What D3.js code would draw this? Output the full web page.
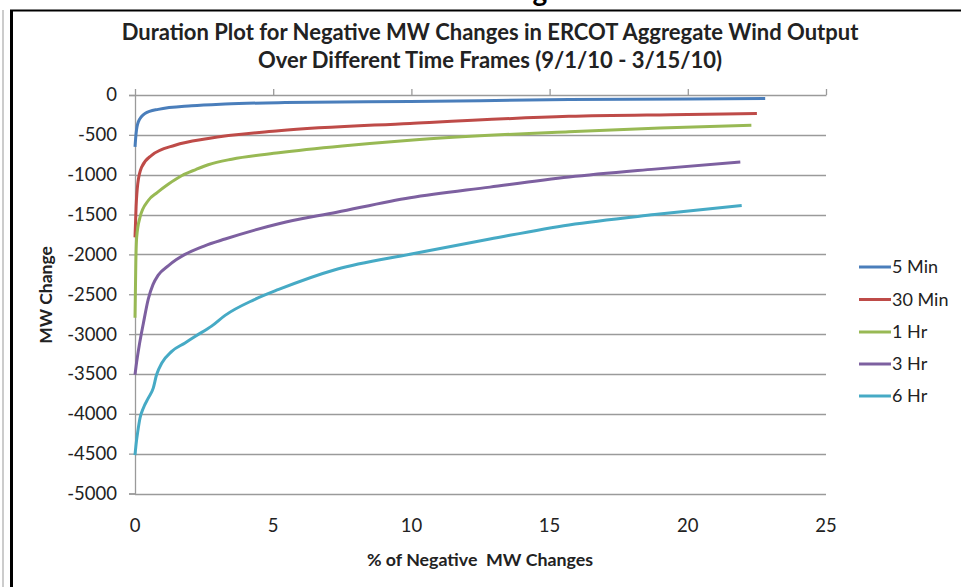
<!DOCTYPE html>
<html>
<head>
<meta charset="utf-8">
<script src="https://cdn.jsdelivr.net/npm/d3@7"></script>
<style>
  html, body { margin: 0; padding: 0; background: #fff; }
  svg { display: block; }
  text { font-family: Lato, "Open Sans", sans-serif; }
</style>
</head>
<body>
<svg id="chart" width="961" height="587"></svg>
<script>
// ---------- data ----------
const seriesNames = ["5 Min", "30 Min", "1 Hr", "3 Hr", "6 Hr"];

const x5min  = [0, 0.04, 0.12, 0.36, 0.84, 2.05, 3.26, 5.43, 9.95, 15.7, 20.0, 22.8];
const y5min  = [-652, -480, -337, -231, -180, -135, -113, -95, -82, -58, -50, -45];

const x30min = [0, 0.04, 0.1, 0.24, 0.6, 1.45, 2.65, 5.2, 9.95, 15.7, 20.0, 22.5];
const y30min = [-1787, -1400, -1114, -904, -757, -630, -546, -450, -357, -268, -245, -231];

const x1hr   = [0, 0.03, 0.06, 0.18, 0.48, 0.8, 1.2, 1.7, 2.2, 2.65, 3.5, 5.2, 7.5, 9.95, 15.7, 19.0, 22.3];
const y1hr   = [-2795, -2100, -1787, -1535, -1324, -1225, -1120, -1010, -935, -875, -805, -725, -640, -567, -460, -415, -378];

const x3hr   = [0, 0.04, 0.15, 0.3, 0.48, 0.65, 0.84, 1.2, 1.5, 1.81, 2.5, 3.26, 5.2, 7.3, 9.95, 12.84, 15.7, 18.8, 21.9];
const y3hr   = [-3510, -3400, -3150, -2870, -2560, -2380, -2260, -2144, -2065, -2000, -1895, -1807, -1615, -1471, -1290, -1156, -1030, -930, -841];

const x6hr   = [0, 0.05, 0.1, 0.18, 0.3, 0.48, 0.66, 0.78, 0.97, 1.33, 1.81, 2.17, 2.77, 3.26, 4.3, 5.2, 7.3, 9.95, 12.84, 15.7, 18.8, 21.95];
const y6hr   = [-4518, -4350, -4224, -4056, -3930, -3804, -3678, -3510, -3363, -3216, -3111, -3030, -2900, -2765, -2570, -2440, -2186, -1997, -1807, -1630, -1500, -1387];

const xTicks = [0, 5, 10, 15, 20, 25];
const yTicks = [0, -500, -1000, -1500, -2000, -2500, -3000, -3500, -4000, -4500, -5000];

const titleLines = ["Duration Plot for Negative MW Changes in ERCOT Aggregate Wind Output",
                    "Over Different Time Frames (9/1/10 - 3/15/10)"];
const xTitle = "% of Negative\u00a0 MW Changes";
const yTitle = "MW Change";

// ---------- styles ----------
const colors = ["#4A7EBB", "#BE4B48", "#98B954", "#7D60A0", "#46AAC5"];
const seriesX = [x5min, x30min, x1hr, x3hr, x6hr];
const seriesY = [y5min, y30min, y1hr, y3hr, y6hr];

const svg = d3.select("#chart");
const plotL = 135, plotR = 826, plotT = 95, plotB = 493.5;

const x = d3.scaleLinear().domain([0, 25]).range([plotL, plotR]);
const y = d3.scaleLinear().domain([-5000, 0]).range([plotB, plotT]);

// outer frame (partial, as in the screenshot)
svg.append("line").attr("x1", 3).attr("x2", 3).attr("y1", 10).attr("y2", 587)
  .attr("stroke", "#999").attr("stroke-width", 1);
svg.append("line").attr("x1", 11.5).attr("x2", 11.5).attr("y1", 10).attr("y2", 587)
  .attr("stroke", "#000").attr("stroke-width", 3);
svg.append("line").attr("x1", 10).attr("x2", 961).attr("y1", 10.5).attr("y2", 10.5)
  .attr("stroke", "#000").attr("stroke-width", 2);
// cut-off glyph at the very top (only its descender is visible in the source)
svg.append("text").attr("x", 540).attr("y", 1).attr("text-anchor", "middle")
  .attr("font-size", 28).attr("font-family", "Liberation Serif, serif").attr("font-weight", "bold").text("g");

// gridlines
svg.append("g").selectAll("line").data(yTicks.filter(d => d !== 0)).join("line")
  .attr("x1", plotL).attr("x2", plotR)
  .attr("y1", d => Math.round(y(d)) + 0.5).attr("y2", d => Math.round(y(d)) + 0.5)
  .attr("stroke", "#9a9a9a").attr("stroke-width", 1.3);

// y axis
const yAxis = svg.append("g").attr("transform", `translate(${plotL},0)`)
  .call(d3.axisLeft(y).tickValues(yTicks).tickSize(6).tickPadding(12).tickFormat(d3.format("d")));
yAxis.select(".domain").attr("stroke", "#9a9a9a").attr("stroke-width", 1.3);
yAxis.selectAll(".tick line").attr("stroke", "#9a9a9a").attr("stroke-width", 1.3);
yAxis.selectAll(".tick text").attr("font-size", 18.5).attr("fill", "#222")
  .attr("font-family", "Lato, sans-serif").text(d => d === 0 ? "0" : "-" + Math.abs(d));

// x axis at y = 0 (ticks upward), labels at bottom
const xAxis = svg.append("g").attr("transform", `translate(0,${plotT})`)
  .call(d3.axisTop(x).tickValues(xTicks).tickSize(6).tickSizeOuter(0).tickFormat(""));
xAxis.select(".domain").attr("stroke", "#9a9a9a").attr("stroke-width", 1.3);
xAxis.selectAll(".tick line").attr("stroke", "#9a9a9a").attr("stroke-width", 1.3);

svg.append("g").selectAll("text").data(xTicks).join("text")
  .attr("x", d => x(d)).attr("y", 532).attr("text-anchor", "middle")
  .attr("font-size", 18.5).attr("fill", "#222").text(d => d);

// lines
const line = d3.line().x(d => x(d[0])).y(d => y(d[1])).curve(d3.curveMonotoneX);
seriesNames.forEach((name, i) => {
  const pts = seriesX[i].map((xv, j) => [xv, seriesY[i][j]]);
  svg.append("path").datum(pts).attr("d", line)
    .attr("fill", "none").attr("stroke", colors[i]).attr("stroke-width", 3)
    .attr("stroke-linejoin", "round").attr("stroke-linecap", "butt");
});

// titles
svg.selectAll(".title").data(titleLines).join("text").attr("class", "title")
  .attr("x", 490).attr("y", (d, i) => 40 + i * 28).attr("text-anchor", "middle")
  .attr("font-size", 22).attr("font-weight", "bold").attr("fill", "#222").text(d => d);

svg.append("text").attr("x", 480).attr("y", 566).attr("text-anchor", "middle")
  .attr("font-size", 17.8).attr("font-weight", "bold").attr("fill", "#222").text(xTitle);

svg.append("text").attr("transform", "translate(52,295) rotate(-90)").attr("text-anchor", "middle")
  .attr("font-size", 17.5).attr("font-weight", "bold").attr("fill", "#222").text(yTitle);

// legend
const legendY = [267, 299.5, 332, 364, 396];
const lg = svg.append("g").selectAll("g").data(seriesNames).join("g")
  .attr("transform", (d, i) => `translate(859,${legendY[i]})`);
lg.append("line").attr("x1", 0).attr("x2", 32).attr("y1", 0).attr("y2", 0)
  .attr("stroke", (d, i) => colors[i]).attr("stroke-width", 3);
lg.append("text").attr("x", 33).attr("y", 6).attr("font-size", 18).attr("fill", "#222").text(d => d);
</script>
</body>
</html>
